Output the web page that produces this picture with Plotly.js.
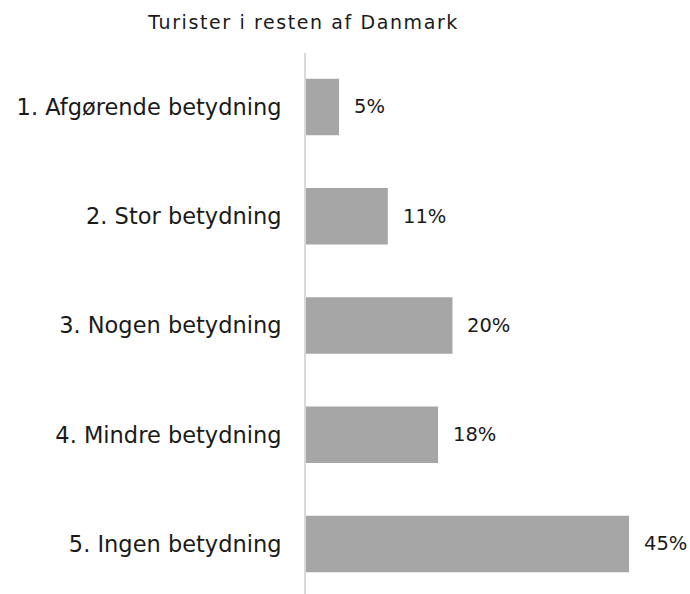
<!DOCTYPE html>
<html>
<head>
<meta charset="utf-8">
<script src="https://cdn.plot.ly/plotly-3.0.1.min.js"></script>
<style>
  html, body { margin: 0; padding: 0; background: #fff; }
  #chart { width: 690px; height: 594px; }
  #chart text.gtitle { letter-spacing: 1.6px; }
</style>
</head>
<body>
<div id="chart"></div>
<script>
const categories = [
    "1. Afgørende betydning",
    "2. Stor betydning",
    "3. Nogen betydning",
    "4. Mindre betydning",
    "5. Ingen betydning"
];
const shares = [4.6, 11.4, 20.4, 18.4, 45.0];
const shareLabels = ["5%", "11%", "20%", "18%", "45%"];

const font = "'DejaVu Sans', sans-serif";

const plotData = [{
    type: "bar",
    orientation: "h",
    y: categories,
    x: shares,
    marker: {color: "#a6a6a6"},
    hoverinfo: "none"
}];

const annotations = categories.map((c, i) => ({
    x: shares[i],
    y: c,
    xref: "x",
    yref: "y",
    text: shareLabels[i],
    showarrow: false,
    xanchor: "left",
    xshift: 13,
    font: {family: font, size: 19.5, color: "#1a1a1a"}
}));

const layout = {
    width: 690,
    height: 594,
    paper_bgcolor: "#fff",
    plot_bgcolor: "#fff",
    title: {
        text: "Turister i resten af Danmark",
        x: 0.44,
        xanchor: "center",
        y: 0.963,
        yanchor: "middle",
        font: {family: font, size: 19, color: "#1a1a1a"}
    },
    margin: {t: 53, r: 61, b: 0, l: 306},
    bargap: 0.483,
    showlegend: false,
    xaxis: {
        range: [0, 45],
        showgrid: false,
        zeroline: false,
        showticklabels: false,
        showline: false,
        fixedrange: true
    },
    yaxis: {
        type: "category",
        categoryorder: "array",
        categoryarray: categories,
        range: [4.458, -0.494],
        showgrid: false,
        zeroline: false,
        showline: true,
        linecolor: "#d9d9d9",
        linewidth: 2,
        ticks: "",
        ticklabelstandoff: 18,
        tickfont: {family: font, size: 22.5, color: "#1a1a1a"},
        automargin: false,
        fixedrange: true
    },
    annotations: annotations
};

Plotly.newPlot("chart", plotData, layout, {displayModeBar: false, responsive: false});
</script>
</body>
</html>
